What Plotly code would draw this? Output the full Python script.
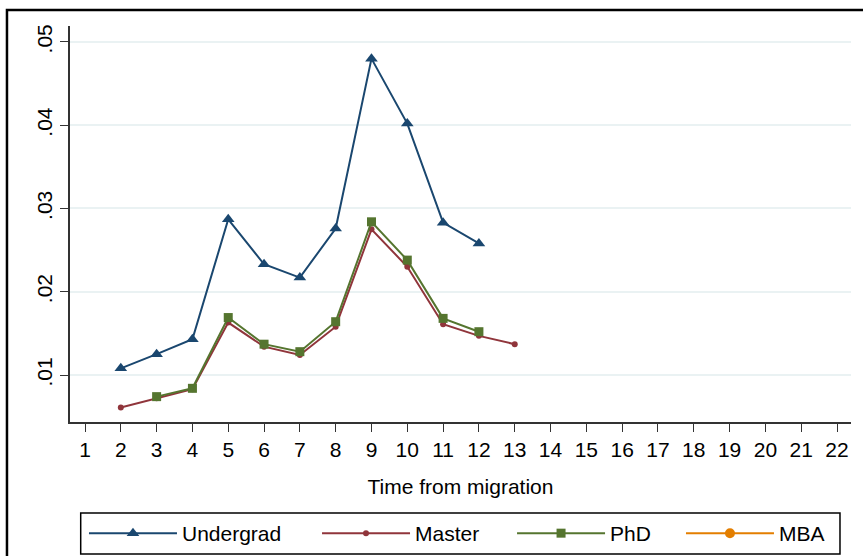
import plotly.graph_objects as go

years = list(range(1, 23))
undergrad_x = [2, 3, 4, 5, 6, 7, 8, 9, 10, 11, 12]
undergrad_y = [0.0108, 0.0125, 0.0143, 0.0287, 0.0233, 0.0217, 0.0276, 0.0480, 0.0402, 0.0283, 0.0258]
master_x = [2, 3, 4, 5, 6, 7, 8, 9, 10, 11, 12, 13]
master_y = [0.0061, 0.0072, 0.0083, 0.0163, 0.0134, 0.0124, 0.0158, 0.0275, 0.0230, 0.0161, 0.0147, 0.0137]
phd_x = [3, 4, 5, 6, 7, 8, 9, 10, 11, 12]
phd_y = [0.0074, 0.0084, 0.0169, 0.0137, 0.0128, 0.0164, 0.0284, 0.0238, 0.0168, 0.0152]
# MBA: no observations shown in the plotted window (legend entry only)
mba_x = [1]
mba_y = [None]
ytick_vals = [0.01, 0.02, 0.03, 0.04, 0.05]
ytick_text = [".01", ".02", ".03", ".04", ".05"]

FONT = "Liberation Sans, Arial, sans-serif"
FS = 21
C_UG = "#1a476f"
C_MA = "#90353b"
C_PHD = "#55752f"
C_MBA = "#e37e00"

fig = go.Figure()
fig.add_trace(go.Scatter(x=undergrad_x, y=undergrad_y, name="Undergrad", mode="lines+markers",
                         line=dict(color=C_UG, width=2), marker=dict(symbol="triangle-up", size=11, color=C_UG),
                         legend="legend"))
fig.add_trace(go.Scatter(x=master_x, y=master_y, name="Master", mode="lines+markers",
                         line=dict(color=C_MA, width=2), marker=dict(symbol="circle", size=6, color=C_MA),
                         legend="legend2"))
fig.add_trace(go.Scatter(x=phd_x, y=phd_y, name="PhD", mode="lines+markers",
                         line=dict(color=C_PHD, width=2), marker=dict(symbol="square", size=9, color=C_PHD),
                         legend="legend3"))
fig.add_trace(go.Scatter(x=mba_x, y=mba_y, name="MBA", mode="lines+markers",
                         line=dict(color=C_MBA, width=2), marker=dict(symbol="circle", size=10, color=C_MBA),
                         legend="legend4"))

def leg(x):
    return dict(x=x, y=-0.2816, xanchor="left", yanchor="middle", orientation="h",
                bgcolor="rgba(0,0,0,0)", borderwidth=0, itemwidth=88,
                font=dict(family=FONT, size=FS, color="black"))

fig.update_layout(
    width=863, height=556,
    showlegend=True,
    margin=dict(l=70, r=12, t=26, b=134, autoexpand=False),
    paper_bgcolor="white", plot_bgcolor="white",
    font=dict(family=FONT, size=FS, color="black"),
    legend=leg(0.0179),
    legend2=leg(0.3163),
    legend3=leg(0.5660),
    legend4=leg(0.7823),
    xaxis=dict(range=[0.581, 22.391], tickvals=years, ticks="outside", ticklen=8, tickcolor="#333",
               showline=True, linecolor="#333", linewidth=1.5, showgrid=False, zeroline=False,
               tickfont=dict(family=FONT, size=FS),
               title=dict(text="Time from migration", font=dict(family=FONT, size=FS), standoff=19)),
    yaxis=dict(range=[0.004354, 0.05192], tickvals=ytick_vals, ticktext=ytick_text, tickangle=-90,
               ticks="outside", ticklen=8, tickcolor="#333",
               showline=True, linecolor="#333", linewidth=1.5,
               showgrid=True, gridcolor="#eaf2f3", gridwidth=2, zeroline=False,
               tickfont=dict(family=FONT, size=FS)),
    shapes=[
        dict(type="rect", xref="paper", yref="paper", x0=-0.0807, x1=1.2, y0=-0.6, y1=1.0404,
             line=dict(color="black", width=2.5), fillcolor="rgba(0,0,0,0)", layer="below"),
        dict(type="rect", xref="paper", yref="paper", x0=0.0137, x1=0.9859, y0=-0.3333, y1=-0.2298,
             line=dict(color="black", width=1.5), fillcolor="rgba(0,0,0,0)", layer="below"),
    ],
)

fig.write_html("out.html", config={"displayModeBar": False},
               post_script="document.body.style.margin='0';")
